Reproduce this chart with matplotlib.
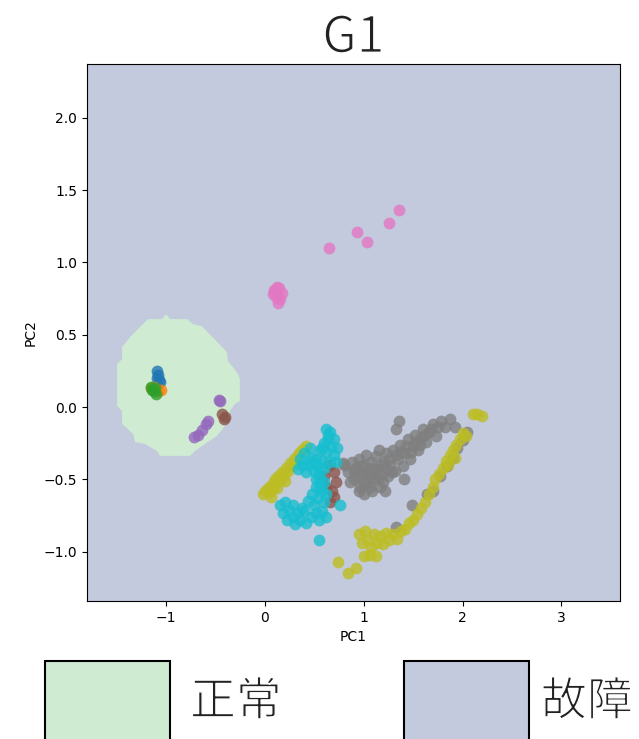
import numpy as np
import matplotlib
matplotlib.use('Agg')
import matplotlib.pyplot as plt
import matplotlib.patheffects as pe
from matplotlib.patches import Rectangle

cjk = ['Noto Sans CJK JP', 'DejaVu Sans']

# region predicted "normal" (boundary of the decision area, PC1/PC2 units)
normal_x = [-1.182, -1.040, -1.000, -0.960, -0.788, -0.727, -0.636, -0.384, -0.374,
            -0.323, -0.273, -0.253, -0.253, -0.303, -0.354, -0.354, -0.404, -0.485,
            -0.606, -0.707, -0.758, -1.061, -1.091, -1.212, -1.313, -1.333, -1.444,
            -1.444, -1.495, -1.495, -1.444, -1.444, -1.364, -1.283]
normal_y = [0.608, 0.608, 0.642, 0.608, 0.608, 0.573, 0.559, 0.380, 0.318,
            0.276, 0.228, 0.193, 0.041, 0.021, -0.028, -0.083, -0.131, -0.200,
            -0.256, -0.304, -0.338, -0.338, -0.304, -0.256, -0.242, -0.186, -0.117,
            -0.028, 0.007, 0.297, 0.331, 0.414, 0.483, 0.539]

# projected samples per class
c0 = [(-1.09, 0.25), (-1.08, 0.22), (-1.07, 0.19), (-1.06, 0.17), (-1.09, 0.20)]
c1 = [(-1.05, 0.12), (-1.12, 0.14), (-1.15, 0.13), (-1.08, 0.11)]
c2 = [(-1.15, 0.14), (-1.12, 0.11), (-1.10, 0.09), (-1.14, 0.12), (-1.11, 0.13)]
c4 = [(-0.72, -0.21), (-0.68, -0.19), (-0.64, -0.16), (-0.60, -0.12), (-0.58, -0.10),
      (-0.46, 0.05), (-0.45, 0.04)]
c5 = [(-0.43, -0.05), (-0.41, -0.08), (-0.40, -0.07),
      (0.66, -0.40), (0.70, -0.45), (0.72, -0.52), (0.68, -0.58), (0.70, -0.62),
      (0.66, -0.66), (0.62, -0.55), (0.60, -0.48)]
c6 = [(0.10, 0.80), (0.12, 0.83), (0.14, 0.82), (0.08, 0.78), (0.11, 0.76), (0.15, 0.75),
      (0.13, 0.72), (0.17, 0.79), (0.09, 0.81),
      (0.65, 1.10), (0.93, 1.21), (1.03, 1.14), (1.26, 1.27), (1.36, 1.36)]
c7 = [(0.80, -0.40), (0.84, -0.45), (0.88, -0.38), (0.90, -0.50), (0.92, -0.42), (0.95, -0.36),
      (0.96, -0.55), (0.98, -0.47), (1.00, -0.40), (1.02, -0.33), (1.03, -0.52), (1.05, -0.44),
      (1.07, -0.38), (1.08, -0.58), (1.10, -0.50), (1.12, -0.34), (1.13, -0.43), (1.15, -0.30),
      (1.16, -0.55), (1.18, -0.46), (1.20, -0.38), (1.21, -0.58), (1.23, -0.32), (1.25, -0.48),
      (1.27, -0.40), (1.30, -0.30), (1.32, -0.44), (1.35, -0.36), (1.37, -0.26), (1.40, -0.41),
      (1.42, -0.32), (1.45, -0.22), (1.47, -0.36), (1.50, -0.27), (1.52, -0.19), (1.55, -0.30),
      (1.58, -0.21), (1.60, -0.15), (1.63, -0.24), (1.66, -0.17), (1.70, -0.12), (1.73, -0.20),
      (1.78, -0.10), (1.82, -0.14), (1.87, -0.08), (1.92, -0.14),
      (0.86, -0.52), (0.90, -0.44), (0.94, -0.48), (0.97, -0.41), (1.00, -0.53), (1.04, -0.47),
      (1.06, -0.55), (1.09, -0.42), (1.11, -0.46), (1.14, -0.50), (1.17, -0.40), (1.19, -0.52),
      (1.22, -0.43), (1.26, -0.36), (1.29, -0.45), (1.33, -0.33), (1.38, -0.31), (1.43, -0.27),
      (1.48, -0.31), (1.53, -0.24), (1.57, -0.26), (1.62, -0.19), (1.68, -0.15), (1.75, -0.14),
      (1.36, -0.10), (1.33, -0.15), (1.41, -0.50), (1.49, -0.68), (1.64, -0.60), (1.70, -0.58),
      (1.77, -0.48), (1.84, -0.41), (1.90, -0.35), (1.94, -0.28), (2.00, -0.23), (2.04, -0.17),
      (1.33, -0.83), (1.00, -0.60), (0.95, -0.58), (0.79, -0.39)]
c8 = [(-0.02, -0.60), (0.00, -0.58), (0.03, -0.56), (0.05, -0.59), (0.07, -0.53), (0.09, -0.55),
      (0.10, -0.50), (0.13, -0.48), (0.15, -0.51), (0.17, -0.45), (0.19, -0.47), (0.21, -0.42),
      (0.23, -0.44), (0.25, -0.39), (0.27, -0.41), (0.29, -0.36), (0.31, -0.38), (0.33, -0.33),
      (0.36, -0.31), (0.39, -0.29), (0.42, -0.27), (0.06, -0.62), (0.12, -0.56), (0.20, -0.51),
      (0.95, -0.88), (0.98, -0.94), (1.01, -0.86), (1.04, -0.92), (1.07, -0.97), (1.10, -0.88),
      (1.13, -0.94), (1.16, -0.89), (1.19, -0.95), (1.22, -0.87), (1.26, -0.92), (1.30, -0.88),
      (1.34, -0.91), (1.38, -0.86), (1.42, -0.84), (1.46, -0.80), (1.50, -0.78), (1.54, -0.74),
      (1.58, -0.70), (1.62, -0.66), (1.66, -0.60), (1.70, -0.55), (1.72, -0.50), (1.76, -0.46),
      (1.80, -0.42), (1.83, -0.37), (1.87, -0.33), (1.90, -0.30), (1.93, -0.26), (1.97, -0.22),
      (2.00, -0.18), (2.03, -0.20), (1.85, -0.40), (1.92, -0.35),
      (2.10, -0.05), (2.15, -0.05), (2.20, -0.06),
      (0.74, -1.07), (0.84, -1.15), (0.92, -1.11), (1.00, -1.03), (1.06, -1.02), (1.12, -1.03)]
c9 = [(0.62, -0.15), (0.66, -0.17), (0.64, -0.22), (0.70, -0.22), (0.60, -0.25), (0.67, -0.27),
      (0.73, -0.28), (0.56, -0.30), (0.62, -0.31), (0.70, -0.33), (0.52, -0.36), (0.58, -0.37),
      (0.65, -0.38), (0.72, -0.38), (0.60, -0.42), (0.64, -0.19), (0.58, -0.28), (0.55, -0.42),
      (0.36, -0.36), (0.40, -0.32), (0.44, -0.40), (0.48, -0.35), (0.34, -0.43), (0.42, -0.45),
      (0.50, -0.44), (0.55, -0.47), (0.46, -0.28), (0.38, -0.40), (0.46, -0.38), (0.52, -0.40),
      (0.56, -0.50), (0.60, -0.52), (0.52, -0.55), (0.58, -0.58), (0.62, -0.60), (0.48, -0.60),
      (0.54, -0.63), (0.60, -0.66), (0.44, -0.65), (0.50, -0.68), (0.56, -0.55), (0.52, -0.50),
      (0.15, -0.68), (0.20, -0.66), (0.18, -0.73), (0.24, -0.71), (0.28, -0.68), (0.22, -0.78),
      (0.28, -0.76), (0.33, -0.73), (0.30, -0.81), (0.36, -0.78), (0.40, -0.72), (0.42, -0.80),
      (0.47, -0.76), (0.52, -0.73), (0.55, -0.78), (0.58, -0.72), (0.62, -0.76), (0.38, -0.70),
      (0.76, -0.68), (0.55, -0.92)]

groups = [('C0', c0), ('C1', c1), ('C2', c2), ('C4', c4), ('C5', c5),
          ('C6', c6), ('C7', c7), ('C8', c8), ('C9', c9)]

fault_color = '#c3cadd'
normal_color = '#cfebd1'

fig = plt.figure(figsize=(6.39, 7.39), dpi=100)
ax = fig.add_axes([0.136, 0.187, 0.834, 0.726])
ax.set_facecolor(fault_color)
ax.fill(normal_x, normal_y, color=normal_color, lw=0, zorder=1)

for col, pts in groups:
    pts = np.array(pts)
    ax.scatter(pts[:, 0], pts[:, 1], s=72, color=col, alpha=0.8, lw=0, zorder=2)

ax.set_xlim(-1.8, 3.59)
ax.set_ylim(-1.34, 2.37)
ax.set_xlabel('PC1')
ax.set_ylabel('PC2')

# glyph fill with a white outline on top -> thinner strokes
thin = [pe.Stroke(linewidth=1.0, foreground='white')]
ax.set_title('G1', fontsize=36, family=cjk, pad=6, color='#222222', path_effects=thin)

# legend boxes along the bottom edge
W, H = 639, 739
for x0, tx, label, col in [(45, 190, '正常', normal_color), (404, 541, '故障', fault_color)]:
    fig.add_artist(Rectangle((x0 / W, (739 - 786) / H), 125 / W, 125 / H,
                             transform=fig.transFigure, facecolor=col,
                             edgecolor='black', lw=1.5))
    fig.text(tx / W, 1 - 702 / H, label, fontsize=33, family=cjk, color='#222222',
             va='center', ha='left', path_effects=thin)

plt.savefig('out.png', dpi=100)
